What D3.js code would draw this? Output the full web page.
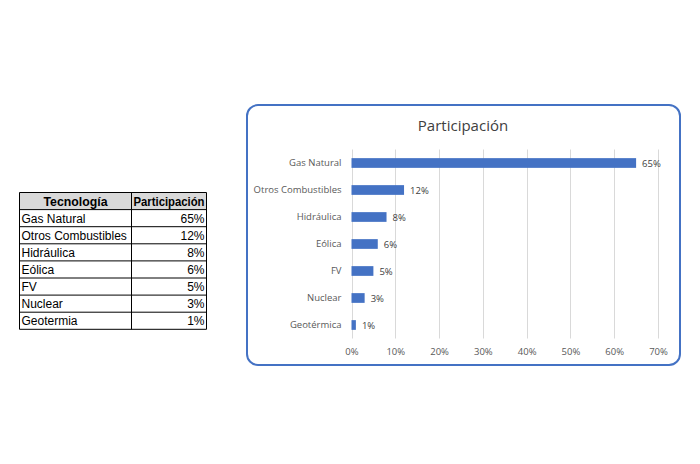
<!DOCTYPE html>
<html><head><meta charset="utf-8">
<script src="https://cdn.jsdelivr.net/npm/d3@7"></script>
<style>body{margin:0;background:#fff;}svg{display:block;}</style>
</head><body>
<svg id="c" width="700" height="464"></svg>
<script>
const categories = ["Gas Natural","Otros Combustibles","Hidráulica","Eólica","FV","Nuclear","Geotérmica"];
const tableCategories = ["Gas Natural","Otros Combustibles","Hidráulica","Eólica","FV","Nuclear","Geotermia"];
const values = [0.65,0.12,0.08,0.06,0.05,0.03,0.01];
const xTicks = [0,0.1,0.2,0.3,0.4,0.5,0.6,0.7];
const headers = ["Tecnología","Participación"];
const title = "Participación";

const svg = d3.select("#c");
const fmt = d3.format(".0%");

// ---- table ----
const tX0 = 19.5, tX1 = 131.5, tX2 = 206.5, tY0 = 192.5, rowH = 17.1;
const tf = "'Liberation Sans', Arial, sans-serif";
const tg = svg.append("g");
tg.append("rect").attr("x",tX0).attr("y",tY0).attr("width",tX2-tX0).attr("height",rowH).attr("fill","#d9d9d9");
const nRows = tableCategories.length + 1;
for (let i=0;i<=nRows;i++){
  tg.append("line").attr("x1",tX0).attr("x2",tX2).attr("y1",tY0+i*rowH).attr("y2",tY0+i*rowH).attr("stroke","#000").attr("stroke-width",1);
}
[tX0,tX1,tX2].forEach(x=>tg.append("line").attr("x1",x).attr("x2",x).attr("y1",tY0).attr("y2",tY0+nRows*rowH).attr("stroke","#000"));
tg.append("text").attr("x",(tX0+tX1)/2).attr("y",tY0+rowH/2+4.5).attr("text-anchor","middle").attr("font-family",tf).attr("font-size",12).attr("font-weight","bold").attr("fill","#000")
  .attr("textLength",64).attr("lengthAdjust","spacingAndGlyphs").text(headers[0]);
tg.append("text").attr("x",(tX1+tX2)/2).attr("y",tY0+rowH/2+4.5).attr("text-anchor","middle").attr("font-family",tf).attr("font-size",12).attr("font-weight","bold").attr("fill","#000")
  .attr("textLength",71).attr("lengthAdjust","spacingAndGlyphs").text(headers[1]);
tableCategories.forEach((c,i)=>{
  const y = tY0+(i+1)*rowH+rowH/2+4.5;
  tg.append("text").attr("x",tX0+2).attr("y",y).attr("font-family",tf).attr("font-size",12).attr("fill","#000").text(c);
  tg.append("text").attr("x",tX2-2).attr("y",y).attr("text-anchor","end").attr("font-family",tf).attr("font-size",12).attr("fill","#000").text(fmt(values[i]));
});

// ---- chart box ----
svg.append("rect").attr("x",247).attr("y",105).attr("width",433).attr("height",260).attr("rx",11).attr("ry",11)
  .attr("fill","#fff").attr("stroke","#4472c4").attr("stroke-width",2);

svg.append("text").attr("x",463).attr("y",131).attr("text-anchor","middle").attr("font-family","'Open Sans', sans-serif").attr("font-size",15).attr("fill","#404040").text(title);

const cf = "'Open Sans', sans-serif";
const x = d3.scaleLinear().domain([0,0.7]).range([351.5,658]);
const y = d3.scaleBand().domain(categories).range([149.5,338.5]).paddingInner(0.64).paddingOuter(0.32);

// gridlines
svg.append("g").selectAll("line").data(xTicks).join("line")
  .attr("x1",d=>Math.round(x(d))+0.5).attr("x2",d=>Math.round(x(d))+0.5)
  .attr("y1",149.5).attr("y2",338.5).attr("stroke","#d9d9d9").attr("stroke-width",1);

// x axis labels
const xa = svg.append("g").attr("transform","translate(0,338.5)")
  .call(d3.axisBottom(x).tickValues(xTicks).tickFormat(fmt).tickSize(0).tickPadding(10));
xa.select(".domain").remove();
xa.selectAll("text").attr("font-family",cf).attr("font-size",9.5).attr("fill","#595959");

// y axis labels
const ya = svg.append("g").attr("transform","translate(351.5,0)")
  .call(d3.axisLeft(y).tickSize(0).tickPadding(10));
ya.select(".domain").remove();
ya.selectAll("text").attr("font-family",cf).attr("font-size",9.5).attr("fill","#595959");

// bars
svg.append("g").selectAll("rect").data(values).join("rect")
  .attr("x",x(0)).attr("y",(d,i)=>y(categories[i]))
  .attr("width",d=>x(d)-x(0)).attr("height",y.bandwidth())
  .attr("fill","#4472c4");

// labels
svg.append("g").selectAll("text").data(values).join("text")
  .attr("x",d=>x(d)+6).attr("y",(d,i)=>y(categories[i])+y.bandwidth()/2+3.5)
  .attr("font-family",cf).attr("font-size",9.5).attr("fill","#404040").text(d=>fmt(d));
</script>
</body></html>
